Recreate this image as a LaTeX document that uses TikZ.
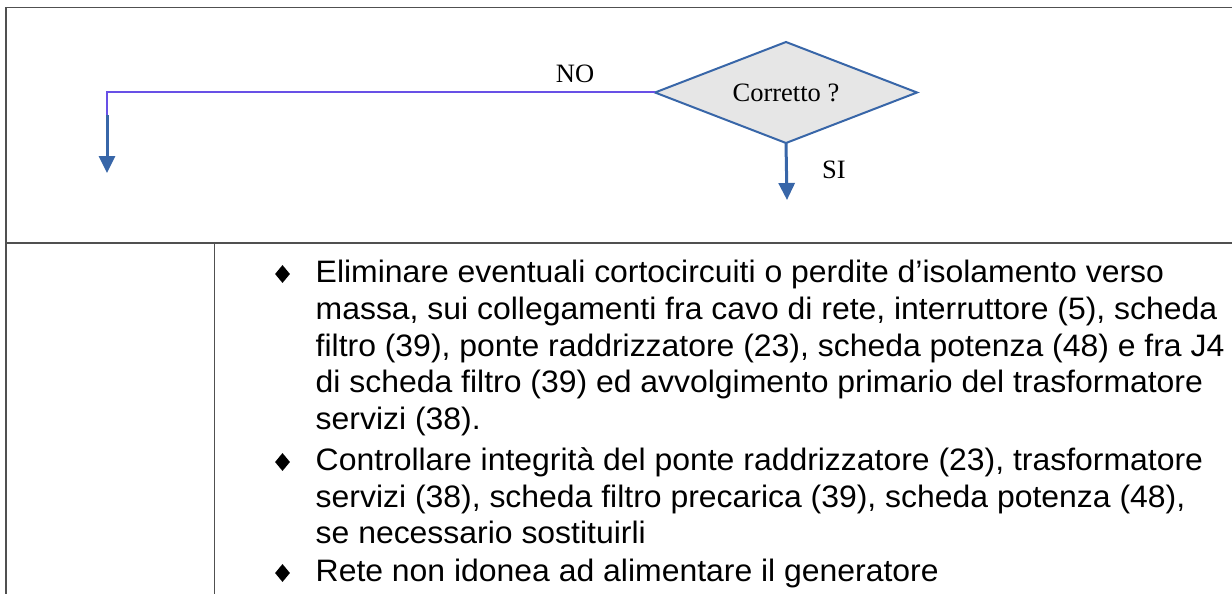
\documentclass[tikz,border=0pt]{standalone}
\usepackage{fontspec}
\setmainfont{Liberation Serif}
\newfontfamily\bodyfont[FakeStretch=1.03]{Liberation Sans}
\usetikzlibrary{shapes.geometric,arrows.meta}
\definecolor{flowblue}{RGB}{56,102,168}
\definecolor{nopurple}{RGB}{104,80,230}
\definecolor{decfill}{RGB}{230,230,230}
\definecolor{rulegray}{RGB}{80,80,80}
\tikzset{
  rule/.style={draw=rulegray, line width=1.3pt},
  decision/.style={shape=diamond, draw=flowblue, fill=decfill, line width=2pt,
    inner sep=0pt, outer sep=0pt, minimum width=262pt, minimum height=101pt, aspect=2.6,
    font=\fontsize{26.5}{30}\selectfont},
  lbl/.style={font=\fontsize{26.5}{30}\selectfont, inner sep=0pt, anchor=base},
  noline/.style={draw=nopurple, line width=2pt},
  flowarrow/.style={draw=flowblue, line width=3pt, -{Triangle[width=16pt,length=17pt]}},
  bodyline/.style={font=\bodyfont\fontsize{31}{36}\selectfont, inner sep=0pt, anchor=base west},
  bulletmark/.style={shape=diamond, fill=black, inner sep=0pt, minimum width=15pt, minimum height=18pt, aspect=0.83}
}
\begin{document}
\begin{tikzpicture}[x=1pt,y=-1pt]
\useasboundingbox (0,0) rectangle (1232,594);
% table rules
\draw[rule] (6,7.5) -- (1232,7.5);
\draw[rule] (6,7.5) -- (6,594);
\draw[rule] (6,243) -- (1232,243);
\draw[rule] (214.5,243) -- (214.5,594);
% decision
\node[decision] (dec) at (786,92.5) {Corretto ?};
\coordinate (noturn) at (107,92.5);
\coordinate (nomid) at (107,115);
\coordinate (noend) at (107,173);
\coordinate (siend) at (787,200);
\draw[noline] (dec.west) -- (noturn) -- (nomid);
\draw[flowarrow] (nomid) -- (noend);
\draw[flowarrow] (dec.south) -- (siend);
\node[lbl] (nolbl) at (575,82) {NO};
\node[lbl] (silbl) at (834,178) {SI};
% body text
\node[bulletmark] (b1) at (282.5,274) {};
\node[bulletmark] (b2) at (282.5,462) {};
\node[bulletmark] (b3) at (282.5,573) {};
\node[bodyline] (l1) at (315.5,282) {Eliminare eventuali cortocircuiti o perdite d’isolamento verso};
\node[bodyline] (l2) at (315.5,319) {massa, sui collegamenti fra cavo di rete, interruttore (5), scheda};
\node[bodyline] (l3) at (315.5,356) {filtro (39), ponte raddrizzatore (23), scheda potenza (48) e fra J4};
\node[bodyline] (l4) at (315.5,392) {di scheda filtro (39) ed avvolgimento primario del trasformatore};
\node[bodyline] (l5) at (315.5,429) {servizi (38).};
\node[bodyline] (l6) at (315.5,470) {Controllare integrità del ponte raddrizzatore (23), trasformatore};
\node[bodyline] (l7) at (315.5,507) {servizi (38), scheda filtro precarica (39), scheda potenza (48),};
\node[bodyline] (l8) at (315.5,543) {se necessario sostituirli};
\node[bodyline] (l9) at (315.5,581) {Rete non idonea ad alimentare il generatore};
\end{tikzpicture}
\end{document}
